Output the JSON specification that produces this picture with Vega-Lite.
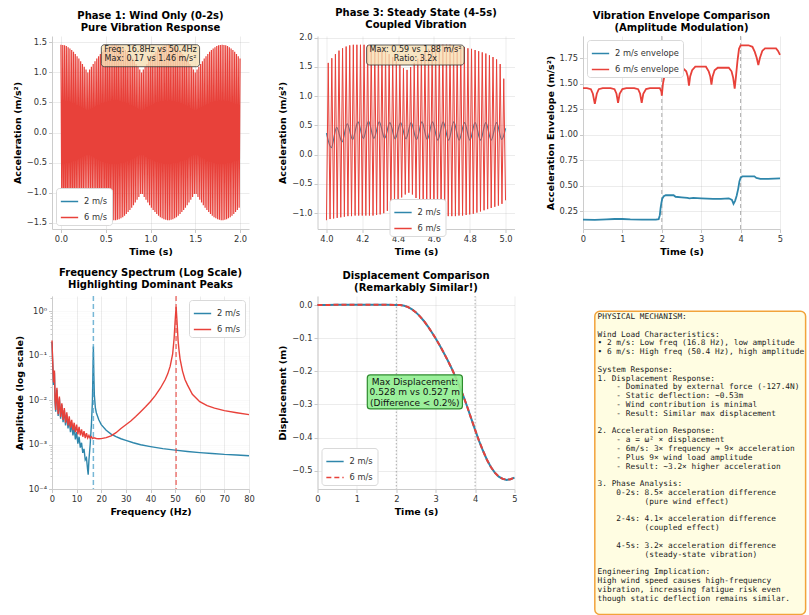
{
"$schema":"https://vega.github.io/schema/vega-lite/v6.json",
"background":"white",
"padding":{"left":12,"top":7,"right":0,"bottom":0},
"autosize":{"type":"pad"},
"bounds":"flush",
"columns":3,
"spacing":{"row":67,"column":68.5},
"resolve":{"scale":{"x":"independent","y":"independent","color":"independent"},"axis":{"x":"independent","y":"independent"},"legend":{"color":"independent"}},
"config":{
 "font":"DejaVu Sans",
 "view":{"stroke":null},
 "axis":{"labelFont":"DejaVu Sans","labelFontSize":8.3,"labelColor":"#333333","titleFont":"DejaVu Sans","titleFontSize":9.5,"titleFontWeight":"bold","titleColor":"#000000","domainColor":"#cccccc","domainWidth":1,"tickColor":"#bbbbbb","tickSize":3.5,"tickWidth":0.8,"labelPadding":2,"titlePadding":4,"gridColor":"#b0b0b0","gridOpacity":0.3,"gridWidth":0.8,"labelFlush":false,"labelOverlap":false,"labelBound":false,"tickCount":100},
 "title":{"font":"DejaVu Sans","fontSize":10,"fontWeight":"bold","color":"#000000","anchor":"middle","frame":"group","offset":3,"lineHeight":12},
 "legend":{"labelFont":"DejaVu Sans","labelFontSize":8.3,"labelColor":"#333333","symbolType":"stroke","symbolSize":300,"symbolStrokeWidth":1.5,"padding":4,"rowPadding":3,"fillColor":"#ffffff","strokeColor":"#d9d9d9","cornerRadius":3,"offset":4,"labelOffset":5}
},
"datasets":{
"p1r":[{"t":0,"v":1.46},{"t":0.01,"v":-1.459},{"t":0.02,"v":1.457},{"t":0.03,"v":-1.454},{"t":0.04,"v":1.45},{"t":0.05,"v":-1.444},{"t":0.06,"v":1.438},{"t":0.07,"v":-1.429},{"t":0.08,"v":1.42},{"t":0.09,"v":-1.41},{"t":0.1,"v":1.398},{"t":0.11,"v":-1.386},{"t":0.12,"v":1.372},{"t":0.13,"v":-1.357},{"t":0.14,"v":1.342},{"t":0.15,"v":-1.325},{"t":0.16,"v":1.308},{"t":0.17,"v":-1.289},{"t":0.18,"v":1.27},{"t":0.19,"v":-1.251},{"t":0.2,"v":1.23},{"t":0.21,"v":-1.209},{"t":0.22,"v":1.187},{"t":0.23,"v":-1.165},{"t":0.24,"v":1.142},{"t":0.25,"v":-1.119},{"t":0.26,"v":1.096},{"t":0.27,"v":-1.072},{"t":0.28,"v":1.048},{"t":0.29,"v":-1.024},{"t":0.3,"v":1.0},{"t":0.31,"v":-1.024},{"t":0.32,"v":1.048},{"t":0.33,"v":-1.072},{"t":0.34,"v":1.096},{"t":0.35,"v":-1.119},{"t":0.36,"v":1.142},{"t":0.37,"v":-1.165},{"t":0.38,"v":1.187},{"t":0.39,"v":-1.209},{"t":0.4,"v":1.23},{"t":0.41,"v":-1.251},{"t":0.42,"v":1.27},{"t":0.43,"v":-1.289},{"t":0.44,"v":1.308},{"t":0.45,"v":-1.325},{"t":0.46,"v":1.342},{"t":0.47,"v":-1.357},{"t":0.48,"v":1.372},{"t":0.49,"v":-1.386},{"t":0.5,"v":1.398},{"t":0.51,"v":-1.41},{"t":0.52,"v":1.42},{"t":0.53,"v":-1.429},{"t":0.54,"v":1.438},{"t":0.55,"v":-1.444},{"t":0.56,"v":1.45},{"t":0.57,"v":-1.454},{"t":0.58,"v":1.457},{"t":0.59,"v":-1.459},
{"t":0.6,"v":1.46},{"t":0.61,"v":-1.459},{"t":0.62,"v":1.457},{"t":0.63,"v":-1.454},{"t":0.64,"v":1.45},{"t":0.65,"v":-1.444},{"t":0.66,"v":1.438},{"t":0.67,"v":-1.429},{"t":0.68,"v":1.42},{"t":0.69,"v":-1.41},{"t":0.7,"v":1.398},{"t":0.71,"v":-1.386},{"t":0.72,"v":1.372},{"t":0.73,"v":-1.357},{"t":0.74,"v":1.342},{"t":0.75,"v":-1.325},{"t":0.76,"v":1.308},{"t":0.77,"v":-1.289},{"t":0.78,"v":1.27},{"t":0.79,"v":-1.251},{"t":0.8,"v":1.23},{"t":0.81,"v":-1.209},{"t":0.82,"v":1.187},{"t":0.83,"v":-1.165},{"t":0.84,"v":1.142},{"t":0.85,"v":-1.119},{"t":0.86,"v":1.096},{"t":0.87,"v":-1.072},{"t":0.88,"v":1.048},{"t":0.89,"v":-1.024},{"t":0.9,"v":1.0},{"t":0.91,"v":-1.024},{"t":0.92,"v":1.048},{"t":0.93,"v":-1.072},{"t":0.94,"v":1.096},{"t":0.95,"v":-1.119},{"t":0.96,"v":1.142},{"t":0.97,"v":-1.165},{"t":0.98,"v":1.187},{"t":0.99,"v":-1.209},{"t":1.0,"v":1.23},{"t":1.01,"v":-1.251},{"t":1.02,"v":1.27},{"t":1.03,"v":-1.289},{"t":1.04,"v":1.308},{"t":1.05,"v":-1.325},{"t":1.06,"v":1.342},{"t":1.07,"v":-1.357},{"t":1.08,"v":1.372},{"t":1.09,"v":-1.386},{"t":1.1,"v":1.398},{"t":1.11,"v":-1.41},{"t":1.12,"v":1.42},{"t":1.13,"v":-1.429},{"t":1.14,"v":1.438},{"t":1.15,"v":-1.444},{"t":1.16,"v":1.45},{"t":1.17,"v":-1.454},{"t":1.18,"v":1.457},{"t":1.19,"v":-1.459},
{"t":1.2,"v":1.46},{"t":1.21,"v":-1.459},{"t":1.22,"v":1.457},{"t":1.23,"v":-1.454},{"t":1.24,"v":1.45},{"t":1.25,"v":-1.444},{"t":1.26,"v":1.438},{"t":1.27,"v":-1.429},{"t":1.28,"v":1.42},{"t":1.29,"v":-1.41},{"t":1.3,"v":1.398},{"t":1.31,"v":-1.386},{"t":1.32,"v":1.372},{"t":1.33,"v":-1.357},{"t":1.34,"v":1.342},{"t":1.35,"v":-1.325},{"t":1.36,"v":1.308},{"t":1.37,"v":-1.289},{"t":1.38,"v":1.27},{"t":1.39,"v":-1.251},{"t":1.4,"v":1.23},{"t":1.41,"v":-1.209},{"t":1.42,"v":1.187},{"t":1.43,"v":-1.165},{"t":1.44,"v":1.142},{"t":1.45,"v":-1.119},{"t":1.46,"v":1.096},{"t":1.47,"v":-1.072},{"t":1.48,"v":1.048},{"t":1.49,"v":-1.024},{"t":1.5,"v":1.0},{"t":1.51,"v":-1.024},{"t":1.52,"v":1.048},{"t":1.53,"v":-1.072},{"t":1.54,"v":1.096},{"t":1.55,"v":-1.119},{"t":1.56,"v":1.142},{"t":1.57,"v":-1.165},{"t":1.58,"v":1.187},{"t":1.59,"v":-1.209},{"t":1.6,"v":1.23},{"t":1.61,"v":-1.251},{"t":1.62,"v":1.27},{"t":1.63,"v":-1.289},{"t":1.64,"v":1.308},{"t":1.65,"v":-1.325},{"t":1.66,"v":1.342},{"t":1.67,"v":-1.357},{"t":1.68,"v":1.372},{"t":1.69,"v":-1.386},{"t":1.7,"v":1.398},{"t":1.71,"v":-1.41},{"t":1.72,"v":1.42},{"t":1.73,"v":-1.429},{"t":1.74,"v":1.438},{"t":1.75,"v":-1.444},{"t":1.76,"v":1.45},{"t":1.77,"v":-1.454},{"t":1.78,"v":1.457},{"t":1.79,"v":-1.459},
{"t":1.8,"v":1.46},{"t":1.81,"v":-1.459},{"t":1.82,"v":1.457},{"t":1.83,"v":-1.454},{"t":1.84,"v":1.45},{"t":1.85,"v":-1.444},{"t":1.86,"v":1.438},{"t":1.87,"v":-1.429},{"t":1.88,"v":1.42},{"t":1.89,"v":-1.41},{"t":1.9,"v":1.398},{"t":1.91,"v":-1.386},{"t":1.92,"v":1.372},{"t":1.93,"v":-1.357},{"t":1.94,"v":1.342},{"t":1.95,"v":-1.325},{"t":1.96,"v":1.308},{"t":1.97,"v":-1.289},{"t":1.98,"v":1.27},{"t":1.99,"v":-1.251},{"t":2.0,"v":1.23}],
"p2r":[{"t":4.0,"v":-1.12},{"t":4.01,"v":1.57},{"t":4.02,"v":-1.1},{"t":4.03,"v":1.65},{"t":4.04,"v":-1.09},{"t":4.05,"v":1.72},{"t":4.06,"v":-1.08},{"t":4.07,"v":1.78},{"t":4.08,"v":-1.07},{"t":4.09,"v":1.82},{"t":4.1,"v":-1.06},{"t":4.11,"v":1.85},{"t":4.12,"v":-1.05},{"t":4.13,"v":1.87},{"t":4.14,"v":-1.05},{"t":4.15,"v":1.88},{"t":4.16,"v":-1.04},{"t":4.17,"v":1.88},{"t":4.18,"v":-1.04},{"t":4.19,"v":1.88},{"t":4.2,"v":-1.04},{"t":4.21,"v":1.88},{"t":4.22,"v":-1.04},{"t":4.23,"v":1.87},{"t":4.24,"v":-1.04},{"t":4.25,"v":1.86},{"t":4.26,"v":-1.04},{"t":4.27,"v":1.85},{"t":4.28,"v":-1.03},{"t":4.29,"v":1.83},{"t":4.3,"v":-1.02},{"t":4.31,"v":1.8},{"t":4.32,"v":-1.0},{"t":4.33,"v":1.77},{"t":4.34,"v":-0.96},{"t":4.35,"v":1.72},{"t":4.36,"v":-0.91},{"t":4.37,"v":1.67},{"t":4.38,"v":-0.85},{"t":4.39,"v":1.6},{"t":4.4,"v":-0.79},{"t":4.41,"v":1.54},{"t":4.42,"v":-0.73},{"t":4.43,"v":1.48},{"t":4.44,"v":-0.68},{"t":4.45,"v":1.45},{"t":4.46,"v":-0.65},{"t":4.47,"v":1.5},{"t":4.48,"v":-0.68},{"t":4.49,"v":1.57},{"t":4.5,"v":-0.74},{"t":4.51,"v":1.64},{"t":4.52,"v":-0.81},{"t":4.53,"v":1.71},{"t":4.54,"v":-0.88},{"t":4.55,"v":1.76},{"t":4.56,"v":-0.94},{"t":4.57,"v":1.81},{"t":4.58,"v":-0.98},{"t":4.59,"v":1.84},{"t":4.6,"v":-1.01},{"t":4.61,"v":1.86},{"t":4.62,"v":-1.03},{"t":4.63,"v":1.88},{"t":4.64,"v":-1.04},{"t":4.65,"v":1.88},{"t":4.66,"v":-1.04},{"t":4.67,"v":1.88},{"t":4.68,"v":-1.05},{"t":4.69,"v":1.88},{"t":4.7,"v":-1.05},{"t":4.71,"v":1.87},{"t":4.72,"v":-1.05},{"t":4.73,"v":1.86},{"t":4.74,"v":-1.04},{"t":4.75,"v":1.85},{"t":4.76,"v":-1.04},{"t":4.77,"v":1.84},{"t":4.78,"v":-1.03},{"t":4.79,"v":1.82},{"t":4.8,"v":-1.02},{"t":4.81,"v":1.81},{"t":4.82,"v":-1.01},{"t":4.83,"v":1.79},{"t":4.84,"v":-0.99},{"t":4.85,"v":1.77},{"t":4.86,"v":-0.97},{"t":4.87,"v":1.75},{"t":4.88,"v":-0.95},{"t":4.89,"v":1.73},{"t":4.9,"v":-0.93},{"t":4.91,"v":1.7},{"t":4.92,"v":-0.91},{"t":4.93,"v":1.67},{"t":4.94,"v":-0.89},{"t":4.95,"v":1.63},{"t":4.96,"v":-0.87},{"t":4.97,"v":1.55},{"t":4.98,"v":-0.84},{"t":4.99,"v":1.3},{"t":5.0,"v":-0.78}],
"p2b":[{"t":4.0,"v":0.37},{"t":4.027,"v":0.12},{"t":4.057,"v":0.47},{"t":4.087,"v":0.22},{"t":4.116,"v":0.53},{"t":4.146,"v":0.26},{"t":4.176,"v":0.56},{"t":4.206,"v":0.28},{"t":4.235,"v":0.57},{"t":4.265,"v":0.28},{"t":4.295,"v":0.56},{"t":4.325,"v":0.28},{"t":4.354,"v":0.55},{"t":4.384,"v":0.27},{"t":4.414,"v":0.55},{"t":4.444,"v":0.27},{"t":4.473,"v":0.55},{"t":4.503,"v":0.26},{"t":4.533,"v":0.56},{"t":4.563,"v":0.26},{"t":4.592,"v":0.56},{"t":4.622,"v":0.25},{"t":4.652,"v":0.56},{"t":4.682,"v":0.25},{"t":4.711,"v":0.56},{"t":4.741,"v":0.25},{"t":4.771,"v":0.55},{"t":4.801,"v":0.25},{"t":4.83,"v":0.55},{"t":4.86,"v":0.25},{"t":4.89,"v":0.55},{"t":4.92,"v":0.25},{"t":4.95,"v":0.55},{"t":4.979,"v":0.26},{"t":5.0,"v":0.45}],
"p3r":[{"t":0,"v":1.455},{"t":0.1,"v":1.455},{"t":0.2,"v":1.445},{"t":0.25,"v":1.4},{"t":0.3,"v":1.3},{"t":0.35,"v":1.4},{"t":0.4,"v":1.445},{"t":0.5,"v":1.455},{"t":0.7,"v":1.455},{"t":0.8,"v":1.445},{"t":0.85,"v":1.4},{"t":0.89,"v":1.31},{"t":0.93,"v":1.4},{"t":1.0,"v":1.445},{"t":1.1,"v":1.455},{"t":1.3,"v":1.455},{"t":1.4,"v":1.445},{"t":1.45,"v":1.4},{"t":1.49,"v":1.31},{"t":1.53,"v":1.4},{"t":1.6,"v":1.445},{"t":1.7,"v":1.455},{"t":1.95,"v":1.455},{"t":1.99,"v":1.42},{"t":2.0,"v":1.38},{"t":2.03,"v":1.5},{"t":2.07,"v":1.58},{"t":2.12,"v":1.62},{"t":2.2,"v":1.645},{"t":2.55,"v":1.645},{"t":2.62,"v":1.62},{"t":2.66,"v":1.57},{"t":2.69,"v":1.48},{"t":2.72,"v":1.57},{"t":2.77,"v":1.63},{"t":2.85,"v":1.665},{"t":3.12,"v":1.665},{"t":3.19,"v":1.62},{"t":3.23,"v":1.57},{"t":3.26,"v":1.49},{"t":3.29,"v":1.57},{"t":3.34,"v":1.63},{"t":3.42,"v":1.655},{"t":3.7,"v":1.655},{"t":3.77,"v":1.62},{"t":3.81,"v":1.56},{"t":3.85,"v":1.45},{"t":3.88,"v":1.56},{"t":3.92,"v":1.72},{"t":3.96,"v":1.84},{"t":4.0,"v":1.875},{"t":4.2,"v":1.875},{"t":4.3,"v":1.86},{"t":4.36,"v":1.81},{"t":4.41,"v":1.75},{"t":4.45,"v":1.68},{"t":4.49,"v":1.75},{"t":4.55,"v":1.82},{"t":4.62,"v":1.845},{"t":4.9,"v":1.845},{"t":4.95,"v":1.82},{"t":5.0,"v":1.78}],
"p3b":[{"t":0,"v":0.165},{"t":0.3,"v":0.163},{"t":0.6,"v":0.168},{"t":0.8,"v":0.172},{"t":1.0,"v":0.172},{"t":1.2,"v":0.168},{"t":1.5,"v":0.165},{"t":1.85,"v":0.165},{"t":1.92,"v":0.17},{"t":1.95,"v":0.21},{"t":1.97,"v":0.28},{"t":1.99,"v":0.33},{"t":2.01,"v":0.37},{"t":2.05,"v":0.395},{"t":2.1,"v":0.405},{"t":2.3,"v":0.405},{"t":2.35,"v":0.39},{"t":2.5,"v":0.385},{"t":2.65,"v":0.38},{"t":2.7,"v":0.375},{"t":2.8,"v":0.38},{"t":3.0,"v":0.375},{"t":3.3,"v":0.37},{"t":3.5,"v":0.37},{"t":3.7,"v":0.375},{"t":3.78,"v":0.36},{"t":3.82,"v":0.32},{"t":3.86,"v":0.35},{"t":3.9,"v":0.4},{"t":3.94,"v":0.47},{"t":3.97,"v":0.54},{"t":4.0,"v":0.575},{"t":4.05,"v":0.59},{"t":4.35,"v":0.59},{"t":4.4,"v":0.575},{"t":4.5,"v":0.565},{"t":4.7,"v":0.565},{"t":5.0,"v":0.57}],
"v24":[{"t":2},{"t":4}],
"vf2":[{"t":16.8}],
"vf6":[{"t":50.4}],
"p4r":[{"t":0,"v":0.22},{"t":0.2,"v":0.1},{"t":0.4,"v":0.05},{"t":0.6,"v":0.025},{"t":0.8,"v":0.045},{"t":1.0,"v":0.045},{"t":1.25,"v":0.01},{"t":1.5,"v":0.006},{"t":1.75,"v":0.012},{"t":2.0,"v":0.019},{"t":2.5,"v":0.0048},{"t":3.0,"v":0.012},{"t":3.5,"v":0.0042},{"t":4.0,"v":0.0085},{"t":4.5,"v":0.0036},{"t":5.0,"v":0.0066},{"t":5.5,"v":0.0031},{"t":6.0,"v":0.0053},{"t":6.5,"v":0.0027},{"t":7.0,"v":0.0043},{"t":7.5,"v":0.0024},{"t":8.0,"v":0.0036},{"t":8.5,"v":0.0021},{"t":9.0,"v":0.0031},{"t":9.5,"v":0.0019},{"t":10.0,"v":0.0028},{"t":10.5,"v":0.0017},{"t":11.0,"v":0.0025},{"t":11.5,"v":0.0016},{"t":12.0,"v":0.0022},{"t":12.5,"v":0.0015},{"t":13.0,"v":0.002},{"t":13.5,"v":0.0014},{"t":14.0,"v":0.0018},{"t":14.5,"v":0.0014},{"t":15.0,"v":0.0016},{"t":15.5,"v":0.00138},{"t":16.0,"v":0.0015},{"t":16.5,"v":0.00136},{"t":17,"v":0.00142},{"t":18,"v":0.00137},{"t":19,"v":0.00135},{"t":20,"v":0.00136},{"t":22,"v":0.00143},{"t":24,"v":0.00157},{"t":26,"v":0.00185},{"t":28,"v":0.0023},{"t":30,"v":0.0028},{"t":32,"v":0.0034},{"t":34,"v":0.0043},{"t":36,"v":0.0055},{"t":38,"v":0.0071},{"t":40,"v":0.0093},{"t":42,"v":0.0128},{"t":44,"v":0.0185},{"t":46,"v":0.029},{"t":47,"v":0.039},{"t":48,"v":0.058},{"t":49,"v":0.11},{"t":49.6,"v":0.25},{"t":50.0,"v":0.6},{"t":50.4,"v":1.25},{"t":50.8,"v":0.55},{"t":51.2,"v":0.22},{"t":51.6,"v":0.13},{"t":52,"v":0.085},{"t":53,"v":0.045},{"t":54,"v":0.029},{"t":55,"v":0.022},{"t":57,"v":0.0135},{"t":60,"v":0.0092},{"t":63,"v":0.0075},{"t":66,"v":0.0066},{"t":70,"v":0.0058},{"t":75,"v":0.0052},{"t":80,"v":0.0047}],
"p4b":[{"t":0,"v":0.2},{"t":0.2,"v":0.09},{"t":0.4,"v":0.045},{"t":0.6,"v":0.022},{"t":0.8,"v":0.04},{"t":1.0,"v":0.04},{"t":1.25,"v":0.009},{"t":1.5,"v":0.0055},{"t":1.75,"v":0.011},{"t":2.0,"v":0.017},{"t":2.5,"v":0.0044},{"t":3.0,"v":0.011},{"t":3.5,"v":0.0038},{"t":4.0,"v":0.0078},{"t":4.5,"v":0.0032},{"t":5.0,"v":0.006},{"t":5.5,"v":0.0027},{"t":6.0,"v":0.0047},{"t":6.5,"v":0.0023},{"t":7.0,"v":0.0037},{"t":7.5,"v":0.0019},{"t":8.0,"v":0.003},{"t":8.5,"v":0.0016},{"t":9.0,"v":0.0024},{"t":9.5,"v":0.0013},{"t":10.0,"v":0.0019},{"t":10.5,"v":0.00105},{"t":11.0,"v":0.0015},{"t":11.5,"v":0.00085},{"t":12.0,"v":0.0011},{"t":12.5,"v":0.00065},{"t":13.0,"v":0.0008},{"t":13.5,"v":0.00045},{"t":14.0,"v":0.0005},{"t":14.5,"v":0.00026},{"t":14.7,"v":0.00021},{"t":15.0,"v":0.00045},{"t":15.5,"v":0.001},{"t":16.0,"v":0.0028},{"t":16.4,"v":0.009},{"t":16.6,"v":0.035},{"t":16.8,"v":0.16},{"t":17.0,"v":0.035},{"t":17.2,"v":0.013},{"t":17.6,"v":0.0068},{"t":18,"v":0.0052},{"t":19,"v":0.0036},{"t":20,"v":0.0028},{"t":22,"v":0.0021},{"t":24,"v":0.00172},{"t":26,"v":0.0015},{"t":28,"v":0.00135},{"t":30,"v":0.00124},{"t":33,"v":0.0011},{"t":36,"v":0.00099},{"t":40,"v":0.0009},{"t":45,"v":0.00081},{"t":50,"v":0.00075},{"t":55,"v":0.0007},{"t":60,"v":0.00066},{"t":65,"v":0.00063},{"t":70,"v":0.0006},{"t":75,"v":0.00058},{"t":80,"v":0.00056}],
"p5b":[{"t":0,"v":0},{"t":0.25,"v":0.0005},{"t":0.5,"v":0.001},{"t":1.0,"v":0.001},{"t":1.5,"v":0.001},{"t":1.75,"v":0.001},{"t":2.0,"v":0.0005},{"t":2.1,"v":0},{"t":2.2,"v":-0.002},{"t":2.3,"v":-0.006},{"t":2.4,"v":-0.013},{"t":2.5,"v":-0.022},{"t":2.6,"v":-0.034},{"t":2.7,"v":-0.048},{"t":2.8,"v":-0.064},{"t":2.9,"v":-0.082},{"t":3.0,"v":-0.101},{"t":3.1,"v":-0.121},{"t":3.2,"v":-0.143},{"t":3.3,"v":-0.166},{"t":3.4,"v":-0.19},{"t":3.5,"v":-0.216},{"t":3.6,"v":-0.244},{"t":3.7,"v":-0.274},{"t":3.8,"v":-0.307},{"t":3.9,"v":-0.342},{"t":4.0,"v":-0.377},{"t":4.1,"v":-0.41},{"t":4.2,"v":-0.44},{"t":4.3,"v":-0.467},{"t":4.4,"v":-0.489},{"t":4.5,"v":-0.506},{"t":4.6,"v":-0.518},{"t":4.7,"v":-0.525},{"t":4.8,"v":-0.528},{"t":4.9,"v":-0.526},{"t":5.0,"v":-0.521}],
"p5r":[{"t":0,"v":0},{"t":0.25,"v":0.0005},{"t":0.5,"v":0.001},{"t":1.0,"v":0.001},{"t":1.5,"v":0.001},{"t":1.75,"v":0.001},{"t":2.0,"v":0.0005},{"t":2.1,"v":0},{"t":2.2,"v":-0.002},{"t":2.3,"v":-0.006},{"t":2.4,"v":-0.013},{"t":2.5,"v":-0.022},{"t":2.6,"v":-0.034},{"t":2.7,"v":-0.048},{"t":2.8,"v":-0.064},{"t":2.9,"v":-0.082},{"t":3.0,"v":-0.101},{"t":3.1,"v":-0.121},{"t":3.2,"v":-0.143},{"t":3.3,"v":-0.166},{"t":3.4,"v":-0.19},{"t":3.5,"v":-0.216},{"t":3.6,"v":-0.244},{"t":3.7,"v":-0.274},{"t":3.8,"v":-0.307},{"t":3.9,"v":-0.342},{"t":4.0,"v":-0.377},{"t":4.1,"v":-0.41},{"t":4.2,"v":-0.44},{"t":4.3,"v":-0.467},{"t":4.4,"v":-0.489},{"t":4.5,"v":-0.506},{"t":4.6,"v":-0.518},{"t":4.7,"v":-0.525},{"t":4.8,"v":-0.527},{"t":4.9,"v":-0.526},{"t":5.0,"v":-0.521}],
"notes":[{"i":1,"line":"PHYSICAL MECHANISM:"},{"i":3,"line":"Wind Load Characteristics:"},{"i":4,"line":"• 2 m/s: Low freq (16.8 Hz), low amplitude"},{"i":5,"line":"• 6 m/s: High freq (50.4 Hz), high amplitude"},{"i":7,"line":"System Response:"},{"i":8,"line":"1. Displacement Response:"},{"i":9,"line":"\u200b\u00a0\u00a0\u00a0\u00a0- Dominated by external force (-127.4N)"},{"i":10,"line":"\u200b\u00a0\u00a0\u00a0\u00a0- Static deflection: ~0.53m"},{"i":11,"line":"\u200b\u00a0\u00a0\u00a0\u00a0- Wind contribution is minimal"},{"i":12,"line":"\u200b\u00a0\u00a0\u00a0\u00a0- Result: Similar max displacement"},{"i":14,"line":"2. Acceleration Response:"},{"i":15,"line":"\u200b\u00a0\u00a0\u00a0\u00a0- a = ω² × displacement"},{"i":16,"line":"\u200b\u00a0\u00a0\u00a0\u00a0- 6m/s: 3× frequency → 9× acceleration"},{"i":17,"line":"\u200b\u00a0\u00a0\u00a0\u00a0- Plus 9× wind load amplitude"},{"i":18,"line":"\u200b\u00a0\u00a0\u00a0\u00a0- Result: ~3.2× higher acceleration"},{"i":20,"line":"3. Phase Analysis:"},{"i":21,"line":"\u200b\u00a0\u00a0\u00a0\u00a00-2s: 8.5× acceleration difference"},{"i":22,"line":"\u200b\u00a0\u00a0\u00a0\u00a0\u00a0\u00a0\u00a0\u00a0\u00a0\u00a0(pure wind effect)"},{"i":24,"line":"\u200b\u00a0\u00a0\u00a0\u00a02-4s: 4.1× acceleration difference"},{"i":25,"line":"\u200b\u00a0\u00a0\u00a0\u00a0\u00a0\u00a0\u00a0\u00a0\u00a0\u00a0(coupled effect)"},{"i":27,"line":"\u200b\u00a0\u00a0\u00a0\u00a04-5s: 3.2× acceleration difference"},{"i":28,"line":"\u200b\u00a0\u00a0\u00a0\u00a0\u00a0\u00a0\u00a0\u00a0\u00a0\u00a0(steady-state vibration)"},{"i":30,"line":"Engineering Implication:"},{"i":31,"line":"High wind speed causes high-frequency"},{"i":32,"line":"vibration, increasing fatigue risk even"},{"i":33,"line":"though static deflection remains similar."}]
},
"concat":[
{
 "width":197,"height":193,
 "title":{"text":["Phase 1: Wind Only (0-2s)","Pure Vibration Response"]},
 "layer":[
  {"data":{"name":"p1r"},"mark":{"type":"line","strokeWidth":1.2},
   "encoding":{
    "x":{"field":"t","type":"quantitative","title":"Time (s)","scale":{"domain":[-0.1,2.1],"nice":false,"zero":false},"axis":{"values":[0,0.5,1,1.5,2],"format":".1f","tickCount":100,"labelOverlap":false}},
    "y":{"field":"v","type":"quantitative","title":"Acceleration (m/s²)","scale":{"domain":[-1.606,1.606],"nice":false,"zero":false},"axis":{"values":[-1.5,-1,-0.5,0,0.5,1,1.5],"format":".1f","tickCount":100,"labelOverlap":false}},
    "color":{"datum":"6 m/s","type":"nominal","scale":{"domain":["2 m/s","6 m/s"],"range":["#2E86AB","#E8413A"]},"legend":{"title":null,"orient":"bottom-left"}}}},
  {"data":{"values":[{}]},"mark":{"type":"rect","fill":"#f5deb3","fillOpacity":0.8,"stroke":"#333333","strokeWidth":0.8,"cornerRadius":3},
   "encoding":{"x":{"datum":0.451},"x2":{"datum":1.548},"y":{"datum":1.461},"y2":{"datum":1.095}}},
  {"data":{"values":[{}]},"mark":{"type":"text","text":["Freq: 16.8Hz vs 50.4Hz","Max: 0.17 vs 1.46 m/s²"],"fontSize":8,"lineHeight":9.4,"align":"center","baseline":"middle","color":"#222222"},
   "encoding":{"x":{"datum":1.0},"y":{"datum":1.373}}}
 ]
},
{
 "width":197,"height":193,
 "title":{"text":["Phase 3: Steady State (4-5s)","Coupled Vibration"]},
 "layer":[
  {"data":{"name":"p2b"},"mark":{"type":"line","strokeWidth":1.2,"interpolate":"monotone"},
   "encoding":{
    "x":{"field":"t","type":"quantitative","title":"Time (s)","scale":{"domain":[3.95,5.05],"nice":false,"zero":false},"axis":{"values":[4,4.2,4.4,4.6,4.8,5],"format":".1f","tickCount":100,"labelOverlap":false}},
    "y":{"field":"v","type":"quantitative","title":"Acceleration (m/s²)","scale":{"domain":[-1.27,2.03],"nice":false,"zero":false},"axis":{"values":[-1,-0.5,0,0.5,1,1.5,2],"format":".1f","tickCount":100,"labelOverlap":false}},
    "color":{"datum":"2 m/s","type":"nominal","scale":{"domain":["2 m/s","6 m/s"],"range":["#2E86AB","#E8413A"]},"legend":{"title":null,"orient":"none","legendX":72,"legendY":163}}}},
  {"data":{"name":"p2r"},"mark":{"type":"line","strokeWidth":1},
   "encoding":{"x":{"field":"t","type":"quantitative","title":"Time (s)"},"y":{"field":"v","type":"quantitative","title":"Acceleration (m/s²)"},"color":{"datum":"6 m/s","type":"nominal"}}},
  {"data":{"values":[{}]},"mark":{"type":"rect","fill":"#f5deb3","fillOpacity":0.8,"stroke":"#333333","strokeWidth":0.8,"cornerRadius":3},
   "encoding":{"x":{"datum":4.224},"x2":{"datum":4.769},"y":{"datum":1.876},"y2":{"datum":1.534}}},
  {"data":{"values":[{}]},"mark":{"type":"text","text":["Max: 0.59 vs 1.88 m/s²","Ratio: 3.2x"],"fontSize":8,"lineHeight":9.4,"align":"center","baseline":"middle","color":"#222222"},
   "encoding":{"x":{"datum":4.497},"y":{"datum":1.79}}}
 ]
},
{
 "width":197,"height":193,
 "title":{"text":["Vibration Envelope Comparison","(Amplitude Modulation)"]},
 "layer":[
  {"data":{"name":"v24"},"mark":{"type":"rule","color":"#999999","strokeDash":[4,3],"strokeWidth":1,"opacity":0.8},
   "encoding":{"x":{"field":"t","type":"quantitative","title":"Time (s)"}}},
  {"data":{"name":"p3b"},"mark":{"type":"line","strokeWidth":1.8},
   "encoding":{
    "x":{"field":"t","type":"quantitative","title":"Time (s)","scale":{"domain":[0,5],"nice":false,"zero":false},"axis":{"values":[0,1,2,3,4,5],"format":"d","tickCount":100,"labelOverlap":false}},
    "y":{"field":"v","type":"quantitative","title":"Acceleration Envelope (m/s²)","scale":{"domain":[0.074,1.966],"nice":false,"zero":false},"axis":{"values":[0.25,0.5,0.75,1,1.25,1.5,1.75],"format":".2f","tickCount":100,"labelOverlap":false}},
    "color":{"datum":"2 m/s envelope","type":"nominal","scale":{"domain":["2 m/s envelope","6 m/s envelope"],"range":["#2E86AB","#E8413A"]},"legend":{"title":null,"orient":"top-left"}}}},
  {"data":{"name":"p3r"},"mark":{"type":"line","strokeWidth":1.8},
   "encoding":{"x":{"field":"t","type":"quantitative","title":"Time (s)"},"y":{"field":"v","type":"quantitative","title":"Acceleration Envelope (m/s²)"},"color":{"datum":"6 m/s envelope","type":"nominal"}}}
 ]
},
{
 "width":197,"height":193,
 "title":{"text":["Frequency Spectrum (Log Scale)","Highlighting Dominant Peaks"]},
 "layer":[
  {"data":{"name":"p4b"},"mark":{"type":"line","strokeWidth":1.4},
   "encoding":{
    "x":{"field":"t","type":"quantitative","title":"Frequency (Hz)","scale":{"domain":[0,80],"nice":false,"zero":false},"axis":{"values":[0,10,20,30,40,50,60,70,80],"format":"d","tickCount":100,"labelOverlap":false}},
    "y":{"field":"v","type":"quantitative","title":"Amplitude (log scale)","scale":{"type":"log","domain":[0.0001,2.2],"nice":false},"axis":{"tickCount":100,"labelOverlap":false,"values":[0.0001,0.0002,0.0003,0.0004,0.0005,0.0006,0.0007,0.0008,0.0009,0.001,0.002,0.003,0.004,0.005,0.006,0.007,0.008,0.009,0.01,0.02,0.03,0.04,0.05,0.06,0.07,0.08,0.09,0.1,0.2,0.3,0.4,0.5,0.6,0.7,0.8,0.9,1,2],"labelExpr":"datum.value == 1 ? '10⁰' : datum.value == 0.1 ? '10⁻¹' : datum.value == 0.01 ? '10⁻²' : datum.value == 0.001 ? '10⁻³' : datum.value == 0.0001 ? '10⁻⁴' : ''","tickSize":{"condition":{"test":"datum.value == 1 || datum.value == 0.1 || datum.value == 0.01 || datum.value == 0.001 || datum.value == 0.0001","value":3.5},"value":2},"gridOpacity":{"condition":{"test":"datum.value == 1 || datum.value == 0.1 || datum.value == 0.01 || datum.value == 0.001 || datum.value == 0.0001","value":0.3},"value":0.15}}},
    "color":{"datum":"2 m/s","type":"nominal","scale":{"domain":["2 m/s","6 m/s"],"range":["#2E86AB","#E8413A"]},"legend":{"title":null,"orient":"top-right"}}}},
  {"data":{"name":"p4r"},"mark":{"type":"line","strokeWidth":1.4},
   "encoding":{"x":{"field":"t","type":"quantitative","title":"Frequency (Hz)"},"y":{"field":"v","type":"quantitative","title":"Amplitude (log scale)"},"color":{"datum":"6 m/s","type":"nominal"}}},
  {"data":{"name":"vf2"},"mark":{"type":"rule","color":"#4a9fc8","strokeDash":[5,3],"strokeWidth":1.5,"opacity":0.75},
   "encoding":{"x":{"field":"t","type":"quantitative","title":"Frequency (Hz)"}}},
  {"data":{"name":"vf6"},"mark":{"type":"rule","color":"#E8413A","strokeDash":[5,3],"strokeWidth":1.5,"opacity":0.7},
   "encoding":{"x":{"field":"t","type":"quantitative","title":"Frequency (Hz)"}}}
 ]
},
{
 "width":197,"height":193,
 "title":{"text":["Displacement Comparison","(Remarkably Similar!)"]},
 "layer":[
  {"data":{"name":"v24"},"mark":{"type":"rule","color":"#999999","strokeDash":[1.5,2],"strokeWidth":1,"opacity":0.8},
   "encoding":{"x":{"field":"t","type":"quantitative","title":"Time (s)"}}},
  {"data":{"name":"p5b"},"mark":{"type":"line","strokeWidth":2},
   "encoding":{
    "x":{"field":"t","type":"quantitative","title":"Time (s)","scale":{"domain":[0,5],"nice":false,"zero":false},"axis":{"values":[0,1,2,3,4,5],"format":"d","tickCount":100,"labelOverlap":false}},
    "y":{"field":"v","type":"quantitative","title":"Displacement (m)","scale":{"domain":[-0.5555,0.0275],"nice":false,"zero":false},"axis":{"values":[-0.5,-0.4,-0.3,-0.2,-0.1,0],"format":".1f","tickCount":100,"labelOverlap":false}},
    "color":{"datum":"2 m/s","type":"nominal","scale":{"domain":["2 m/s","6 m/s"],"range":["#2E86AB","#E8413A"]},"legend":{"title":null,"orient":"bottom-left","encode":{"symbols":{"update":{"strokeDash":{"signal":"datum.value == '6 m/s' ? [5,3] : [1,0]"}}}}}}}},
  {"data":{"name":"p5r"},"mark":{"type":"line","strokeWidth":2,"strokeDash":[5,3]},
   "encoding":{"x":{"field":"t","type":"quantitative","title":"Time (s)"},"y":{"field":"v","type":"quantitative","title":"Displacement (m)"},"color":{"datum":"6 m/s","type":"nominal"}}},
  {"data":{"values":[{}]},"mark":{"type":"rect","fill":"#90ee90","fillOpacity":0.9,"stroke":"#2e8b2e","strokeWidth":1.2,"cornerRadius":3},
   "encoding":{"x":{"datum":1.264},"x2":{"datum":3.678},"y":{"datum":-0.211},"y2":{"datum":-0.3135}}},
  {"data":{"values":[{}]},"mark":{"type":"text","text":["Max Displacement:","0.528 m vs 0.527 m","(Difference < 0.2%)"],"fontSize":9,"lineHeight":10.5,"align":"center","baseline":"middle","color":"#111111"},
   "encoding":{"x":{"datum":2.471},"y":{"datum":-0.231}}}
 ]
},
{
 "width":197,"height":193,
 "layer":[
  {"data":{"values":[{}]},"mark":{"type":"rect","fill":"#fffde2","stroke":"#f2a33a","strokeWidth":1.5,"cornerRadius":5},
   "encoding":{"x":{"datum":0.06,"scale":{"domain":[0,1],"nice":false,"zero":false},"axis":null},"x2":{"datum":1.13},"y":{"datum":0.353,"scale":{"domain":[-1.386,20.546],"reverse":true,"nice":false,"zero":false},"axis":null},"y2":{"datum":34.8}}},
  {"data":{"name":"notes"},"mark":{"type":"text","align":"left","baseline":"middle","font":"DejaVu Sans Mono, Liberation Mono, monospace","fontSize":7.8,"color":"#1a1a1a"},
   "encoding":{"x":{"datum":0.074,"axis":null},"y":{"field":"i","type":"quantitative","axis":null},"text":{"field":"line"}}}
 ]
}
]
}
